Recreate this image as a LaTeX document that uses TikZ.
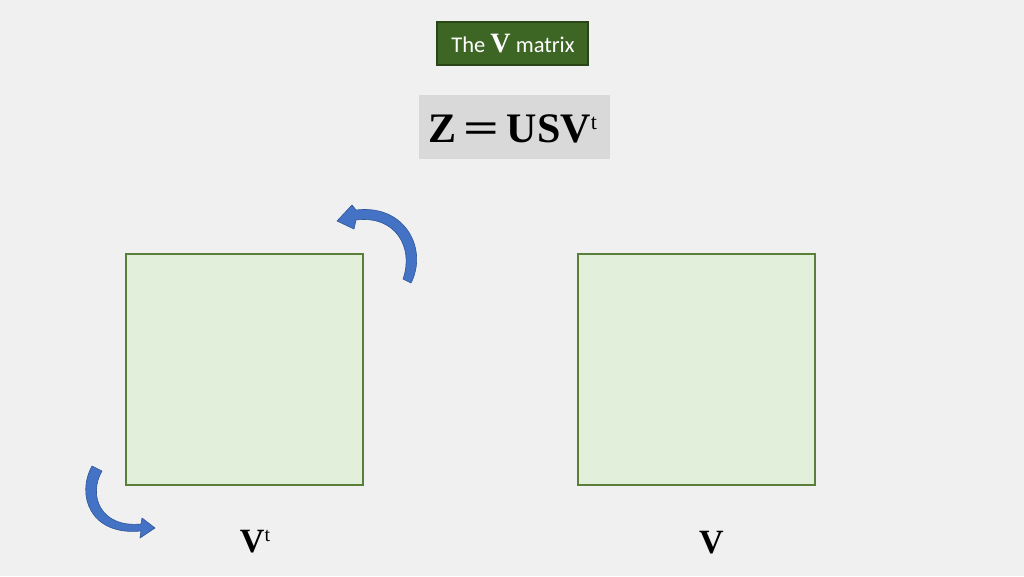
\documentclass[tikz,border=0pt]{standalone}
\usepackage{fontspec}
\usepackage{graphicx}
\setmainfont{Liberation Serif}
\newfontfamily\carl{Carlito}
\definecolor{bg}{HTML}{F0F0F0}
\definecolor{titlegreen}{HTML}{3D6625}
\definecolor{titleborder}{HTML}{2A4619}
\definecolor{formgray}{HTML}{D9D9D9}
\definecolor{matfill}{HTML}{E2EFDA}
\definecolor{matborder}{HTML}{5A7F3A}
\definecolor{arrowblue}{HTML}{4472C4}
\definecolor{arrowedge}{HTML}{2F5597}
\begin{document}
\begin{tikzpicture}[x=1pt,y=-1pt,
  mat/.style={draw=matborder, fill=matfill, line width=1.2pt, minimum width=237pt, minimum height=231pt, inner sep=0pt},
  curv/.style={fill=arrowblue, draw=arrowedge, line width=0.6pt, line join=round},
  lbl/.style={anchor=base, inner sep=0pt}]
\fill[bg] (0,0) rectangle (1024,576);
\useasboundingbox (0,0) rectangle (1024,576);
% title
\node (titlebox) [fill=titlegreen, draw=titleborder, line width=1.5pt, minimum width=151pt, minimum height=43pt, inner sep=0pt] at (512.5,43.5) {};
\node (title) [lbl, text=white] at (513,52) {\carl\fontsize{22.5}{26}\selectfont The {\rmfamily\bfseries\fontsize{28}{28}\selectfont V} matrix};
% formula
\node (formbox) [fill=formgray, minimum width=191pt, minimum height=64pt, inner sep=0pt] at (514.5,127) {};
\node (formula) [lbl] at (513,142) {\bfseries\fontsize{42}{44}\selectfont Z\,\scalebox{1.5}[1]{=}\,USV\raisebox{13pt}{\mdseries\fontsize{22}{22}\selectfont t}};
% matrices
\node (vt) [mat] at (244.5,369.5) {};
\node (v) [mat] at (696.5,369.5) {};
% labels
\node (vtlabel) [lbl] at (255,552) {\bfseries\fontsize{34}{34}\selectfont V\raisebox{11pt}{\mdseries\fontsize{20}{20}\selectfont t}};
\node (vlabel) [lbl] at (711.5,553) {\bfseries\fontsize{34}{34}\selectfont V};
% curved arrows
\path[curv] (411,283) .. controls (428,250) and (406,204) .. (356,210)
  -- (352,205) -- (337,221) -- (354,229) -- (356,220)
  .. controls (396,215) and (414,248) .. (403,279) -- cycle;
\path[curv] (92,466) .. controls (76,495) and (90,536) .. (141,531)
  -- (140,538) -- (155,528) -- (142,518) -- (141,524)
  .. controls (100,528) and (88,495) .. (102,471) -- cycle;
\end{tikzpicture}
\end{document}
